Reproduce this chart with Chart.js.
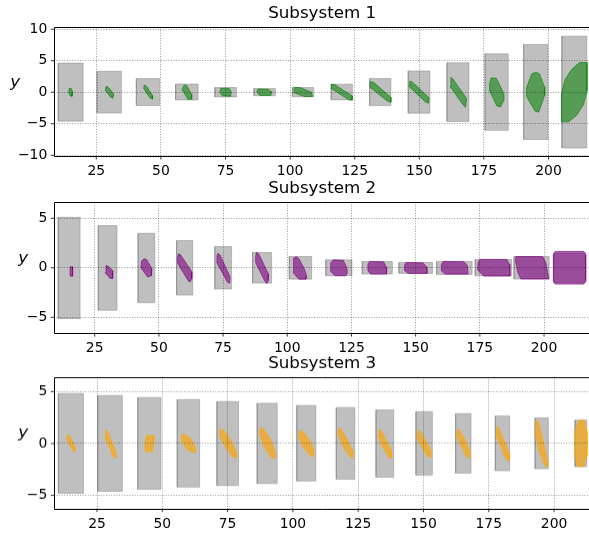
<!DOCTYPE html>
<html>
<head>
<meta charset="utf-8">
<script src="https://cdn.jsdelivr.net/npm/chart.js@4.4.0/dist/chart.umd.min.js"></script>
<style>
  html, body { margin: 0; padding: 0; background: #fff; overflow: hidden; }
  .panel { position: absolute; left: 0; width: 600px; }
</style>
</head>
<body>
<div class="panel" style="top:0px;height:180px"><canvas id="sub1"></canvas></div>
<div class="panel" style="top:174.6px;height:182.1px"><canvas id="sub2"></canvas></div>
<div class="panel" style="top:350px;height:181.7px"><canvas id="sub3"></canvas></div>
<script>
// ------------------- Data -------------------
const xTicks = [25, 50, 75, 100, 125, 150, 175, 200];

// Subsystem 1: boxes (gray) and reachable sets (green)
const sub1BoxLeft  = [10.3, 25.3, 40.5, 55.7, 70.9, 86.0, 100.9, 115.9, 130.8, 145.7, 160.7, 175.4, 190.4, 205.2];
const sub1BoxRight = [19.9, 34.7, 49.5, 64.4, 79.3, 94.3, 109.1, 124.1, 139.0, 154.1, 169.2, 184.4, 199.8, 214.8];
const sub1BoxLow   = [-4.6, -3.3, -2.12, -1.22, -0.74, -0.56, -0.72, -1.22, -2.12, -3.33, -4.65, -6.05, -7.5, -8.85];
const sub1BoxHigh  = [4.62, 3.32, 2.16, 1.3, 0.74, 0.58, 0.74, 1.28, 2.16, 3.37, 4.68, 6.1, 7.58, 8.9];
const sub1Sets = [
  [[14.6,0.65],[15.3,0.6],[15.9,0.0],[15.6,-0.65],[14.9,-0.6],[14.3,0.0]],
  [[28.8,0.95],[29.6,0.8],[31.8,-0.3],[31.4,-0.95],[30.6,-0.8],[28.5,0.3]],
  [[43.6,1.15],[44.5,0.9],[46.9,-0.6],[46.7,-1.1],[45.8,-0.9],[43.3,0.6]],
  [[59.0,1.15],[59.9,1.1],[62.0,-0.4],[61.9,-1.1],[60.5,-1.15],[58.2,0.4]],
  [[73.1,0.63],[76.4,0.6],[77.2,0.1],[77.0,-0.63],[73.8,-0.6],[72.8,0.0]],
  [[87.6,0.5],[91.6,0.45],[92.9,0.1],[92.6,-0.5],[88.2,-0.5],[87.1,0.1]],
  [[101.5,0.74],[103.8,0.74],[108.3,0.0],[108.7,-0.68],[105.5,-0.68],[101.3,-0.05]],
  [[116.0,1.26],[117.3,1.2],[124.1,-0.6],[124.0,-1.26],[122.7,-1.2],[115.9,0.6]],
  [[131.1,1.7],[132.5,1.5],[139.0,-0.8],[139.0,-1.58],[137.6,-1.4],[130.9,0.8]],
  [[146.4,1.8],[147.4,1.6],[153.8,-0.9],[153.6,-1.74],[152.5,-1.6],[146.0,0.9]],
  [[162.2,2.37],[163.0,2.1],[168.3,-1.0],[167.9,-2.37],[167.1,-2.1],[161.9,0.9]],
  [[177.8,2.3],[179.8,2.2],[182.7,-0.2],[182.8,-1.2],[181.5,-2.3],[180.0,-2.2],[177.1,0.3],[177.2,1.4]],
  [[195.2,3.2],[196.5,2.9],[198.5,0.8],[198.5,-0.5],[196.2,-3.16],[194.8,-3.0],[191.5,-0.7],[191.5,0.7],[193.5,2.9]],
  [[212.0,4.7],[214.9,4.7],[214.9,0.2],[213.5,-2.0],[211.0,-3.6],[207.8,-4.7],[205.0,-4.7],[205.0,-0.2],[206.4,2.0],[208.9,3.6]]
];

// Subsystem 2: boxes (gray) and reachable sets (purple)
const sub2BoxLeft  = [10.8, 26.4, 41.9, 56.9, 71.8, 86.5, 100.8, 115.0, 129.2, 143.5, 158.2, 173.2, 188.3, 203.8];
const sub2BoxRight = [19.3, 33.7, 48.4, 63.2, 78.3, 93.9, 109.5, 125.2, 140.9, 156.6, 172.0, 187.4, 202.0, 216.3];
const sub2BoxLow   = [-5.14, -4.3, -3.53, -2.76, -2.15, -1.55, -1.15, -0.8, -0.64, -0.57, -0.67, -0.81, -1.14, -1.5];
const sub2BoxHigh  = [5.1, 4.26, 3.48, 2.75, 2.14, 1.54, 1.14, 0.8, 0.64, 0.53, 0.64, 0.84, 1.14, 1.5];
const sub2Sets = [
  [[15.4,0.1],[16.4,0.1],[16.4,-0.85],[15.4,-0.85]],
  [[29.4,0.23],[30.3,0.15],[32.0,-0.3],[32.0,-1.08],[31.0,-1.08],[29.1,-0.5]],
  [[43.3,0.7],[44.3,0.92],[45.3,0.8],[47.3,-0.1],[47.1,-0.8],[45.6,-0.94],[43.0,0.0]],
  [[57.6,1.41],[58.5,1.3],[62.8,-0.4],[62.8,-1.1],[62.2,-1.45],[61.4,-1.3],[57.3,0.45],[57.3,1.1]],
  [[73.0,1.47],[73.8,1.3],[77.7,-0.9],[77.6,-1.55],[76.8,-1.5],[72.6,0.5],[72.6,1.2]],
  [[88.0,1.57],[88.9,1.4],[92.6,-0.6],[92.6,-1.3],[92.1,-1.6],[91.4,-1.4],[87.7,0.5],[87.7,1.2]],
  [[102.6,1.0],[103.6,1.12],[104.6,0.9],[106.8,-0.2],[107.6,-0.9],[107.3,-1.15],[104.5,-1.15],[102.3,-0.5],[102.3,0.5]],
  [[118.0,0.8],[121.8,0.75],[123.2,0.0],[123.4,-0.5],[122.8,-0.8],[118.6,-0.8],[117.0,-0.4],[116.9,0.5]],
  [[132.0,0.64],[137.5,0.6],[138.8,0.0],[138.6,-0.64],[132.5,-0.64],[131.4,-0.3],[131.4,0.3]],
  [[146.2,0.53],[152.8,0.5],[154.2,0.1],[154.4,-0.57],[147.2,-0.57],[145.7,-0.3],[145.7,0.3]],
  [[160.7,0.64],[168.8,0.62],[170.2,0.2],[170.4,-0.64],[161.5,-0.64],[160.0,-0.3],[160.0,0.3]],
  [[175.0,0.84],[185.5,0.84],[186.4,0.4],[186.7,-0.84],[176.5,-0.84],[174.1,-0.2],[174.3,0.5]],
  [[189.0,1.13],[199.5,1.13],[200.7,0.5],[201.9,-1.13],[191.0,-1.13],[189.8,-0.5],[188.8,0.8]],
  [[204.3,1.65],[215.5,1.65],[216.2,1.3],[216.2,-1.3],[215.5,-1.65],[204.3,-1.65],[203.6,-1.3],[203.6,1.3]]
];

// Subsystem 3: boxes (gray) and reachable sets (orange)
const sub3BoxLeft  = [10.2, 25.3, 40.6, 55.7, 70.9, 86.3, 101.5, 116.6, 131.8, 147.1, 162.3, 177.5, 192.7, 208.0];
const sub3BoxRight = [19.8, 34.7, 49.5, 64.3, 79.2, 94.0, 108.8, 123.7, 138.6, 153.4, 168.2, 183.0, 197.8, 212.5];
const sub3BoxLow   = [-4.79, -4.6, -4.4, -4.2, -4.05, -3.85, -3.62, -3.43, -3.24, -3.04, -2.85, -2.62, -2.43, -2.23];
const sub3BoxHigh  = [4.82, 4.63, 4.43, 4.24, 4.05, 3.88, 3.66, 3.47, 3.24, 3.08, 2.88, 2.65, 2.46, 2.26];
const sub3Sets = [
  [[13.6,0.84],[14.5,0.8],[16.5,-0.3],[16.5,-0.78],[15.9,-0.7],[13.5,0.3]],
  [[28.3,1.39],[29.2,1.1],[32.2,-0.8],[32.2,-1.39],[31.4,-1.3],[28.1,0.5]],
  [[44.0,0.78],[46.6,0.78],[46.8,0.2],[46.2,-0.8],[43.6,-0.8],[43.3,-0.2],[43.6,0.5]],
  [[57.4,0.87],[58.8,0.87],[60.8,0.5],[62.4,-0.2],[62.9,-0.84],[61.3,-0.84],[59.2,-0.5],[57.6,0.1],[57.2,0.5]],
  [[72.2,1.36],[73.5,1.3],[76.5,0.2],[78.5,-0.9],[78.3,-1.36],[76.9,-1.3],[74.0,-0.3],[71.8,0.8]],
  [[87.6,1.49],[88.8,1.4],[91.5,0.4],[93.3,-0.9],[93.1,-1.43],[91.6,-1.35],[89.0,-0.3],[87.1,1.0]],
  [[102.5,1.29],[103.6,1.2],[106.5,0.3],[108.1,-0.6],[108.0,-1.26],[106.8,-1.2],[104.0,-0.4],[102.2,0.6]],
  [[117.6,1.49],[118.5,1.4],[120.7,0.4],[123.1,-0.8],[122.9,-1.43],[121.9,-1.35],[119.3,-0.3],[117.2,0.9]],
  [[132.9,1.36],[133.8,1.25],[136.0,0.2],[137.8,-0.7],[137.7,-1.39],[136.6,-1.3],[134.0,-0.2],[132.6,0.7]],
  [[147.9,1.33],[148.7,1.2],[151.0,0.2],[153.0,-0.7],[152.8,-1.36],[151.7,-1.3],[149.2,-0.3],[147.5,0.6]],
  [[163.0,1.36],[163.9,1.25],[166.3,0.2],[167.9,-0.8],[167.7,-1.39],[166.5,-1.3],[164.3,-0.2],[162.7,0.6]],
  [[178.2,1.65],[178.9,1.5],[181.0,0.2],[182.9,-0.9],[182.8,-1.65],[181.8,-1.6],[179.5,-0.3],[177.8,0.8]],
  [[193.0,2.2],[194.0,2.1],[195.5,0.6],[197.7,-1.8],[197.5,-2.26],[196.6,-2.2],[194.3,-0.8],[192.8,1.0]],
  [[209.5,2.25],[211.6,2.25],[212.6,1.2],[212.6,-1.2],[211.2,-2.23],[209.0,-2.23],[208.0,-1.2],[208.0,1.2]]
];

// ------------------- Helper Functions -------------------

const FONT = '"DejaVu Sans", sans-serif';

function minusLabel(v) {
  return v < 0 ? '\u2212' + Math.abs(v) : String(v);
}

// closed outline of a polygon, fill handled by 'shape' mode
function polygonDataset(points, face, edge) {
  const data = points.map(p => ({ x: p[0], y: p[1] }));
  data.push({ x: points[0][0], y: points[0][1] });
  return {
    data: data,
    showLine: true,
    fill: 'shape',
    backgroundColor: face,
    borderColor: edge,
    borderWidth: 1,
    pointRadius: 0,
    tension: 0,
  };
}

function boxDatasets(left, right, low, high) {
  return left.map((l, i) => polygonDataset(
    [[l, low[i]], [right[i], low[i]], [right[i], high[i]], [l, high[i]]],
    'rgba(128,128,128,0.5)', 'rgba(128,128,128,0.45)'));
}

// spines (left, bottom, top), solid tick marks and the upright "y" label
const framePlugin = {
  id: 'frame',
  afterDraw(chart, args, opts) {
    const { ctx, chartArea: a, scales } = chart;
    ctx.save();
    ctx.strokeStyle = '#000';
    ctx.lineWidth = 1;
    ctx.beginPath();
    ctx.moveTo(a.right, Math.round(a.top) + 0.5);
    ctx.lineTo(Math.round(a.left) + 0.5, Math.round(a.top) + 0.5);
    ctx.lineTo(Math.round(a.left) + 0.5, Math.round(a.bottom) + 0.5);
    ctx.lineTo(a.right, Math.round(a.bottom) + 0.5);
    ctx.stroke();
    ctx.lineWidth = 0.8;
    ctx.beginPath();
    scales.x.ticks.forEach(t => {
      const p = scales.x.getPixelForValue(t.value);
      ctx.moveTo(p, a.bottom);
      ctx.lineTo(p, a.bottom + 3.5);
    });
    scales.y.ticks.forEach(t => {
      const p = scales.y.getPixelForValue(t.value);
      ctx.moveTo(a.left, p);
      ctx.lineTo(a.left - 3.5, p);
    });
    ctx.stroke();
    ctx.fillStyle = '#000';
    ctx.font = 'italic 16.7px ' + FONT;
    ctx.textAlign = 'center';
    ctx.textBaseline = 'alphabetic';
    ctx.fillText('y', opts.x, (a.top + a.bottom) / 2 - 5.2);
    ctx.restore();
  }
};

function renderSubsystem(id, title, sets, face, edge, boxes, xr, yr, yTicks, labelX) {
  const datasets = sets.map(s => polygonDataset(s, face, edge))
    .concat(boxDatasets(boxes[0], boxes[1], boxes[2], boxes[3]));

  new Chart(document.getElementById(id), {
    type: 'scatter',
    data: { datasets: datasets },
    options: {
      responsive: true,
      maintainAspectRatio: false,
      animation: false,
      events: [],
      layout: { padding: { left: 0, right: 10, top: 0, bottom: 0 } },
      scales: {
        x: {
          type: 'linear',
          min: xr[0],
          max: xr[1],
          afterBuildTicks: axis => { axis.ticks = xTicks.map(v => ({ value: v })); },
          afterFit: axis => { axis.height = 24; },
          ticks: { color: '#000', padding: 7, maxRotation: 0, font: { family: FONT, size: 13.9 } },
          grid: { z: 1, color: 'rgba(0,0,0,0.5)', lineWidth: 0.8, drawTicks: false },
          border: { display: false, dash: [1, 1.6] },
        },
        y: {
          type: 'linear',
          min: yr[0],
          max: yr[1],
          afterBuildTicks: axis => { axis.ticks = yTicks.map(v => ({ value: v })); },
          afterFit: axis => { axis.width = 54.3; },
          ticks: { color: '#000', padding: 7, callback: minusLabel, font: { family: FONT, size: 13.9 } },
          grid: { z: 1, color: 'rgba(0,0,0,0.5)', lineWidth: 0.8, drawTicks: false },
          border: { display: false, dash: [1, 1.6] },
        }
      },
      plugins: {
        legend: { display: false },
        tooltip: { enabled: false },
        title: {
          display: true,
          text: title,
          fullSize: false,
          color: '#000',
          font: { family: FONT, size: 16.7, weight: 'normal' },
          padding: { top: 4, bottom: 3.4 },
        },
        frame: { x: labelX },
      }
    },
    plugins: [framePlugin],
  });
}

renderSubsystem('sub1', 'Subsystem 1', sub1Sets, 'rgba(0,128,0,0.55)', 'rgba(0,128,0,0.6)',
  [sub1BoxLeft, sub1BoxRight, sub1BoxLow, sub1BoxHigh], [8.75, 216.05], [-10.12, 10.28], [-10, -5, 0, 5, 10], 15.3);
renderSubsystem('sub2', 'Subsystem 2', sub2Sets, 'rgba(128,0,128,0.6)', 'rgba(128,0,128,0.6)',
  [sub2BoxLeft, sub2BoxRight, sub2BoxLow, sub2BoxHigh], [9.27, 217.9], [-6.6, 6.6], [-5, 0, 5], 23.3);
renderSubsystem('sub3', 'Subsystem 3', sub3Sets, 'rgba(255,165,0,0.65)', 'rgba(255,165,0,0.6)',
  [sub3BoxLeft, sub3BoxRight, sub3BoxLow, sub3BoxHigh], [8.65, 213.75], [-6.27, 6.35], [-5, 0, 5], 23.3);
</script>
</body>
</html>
